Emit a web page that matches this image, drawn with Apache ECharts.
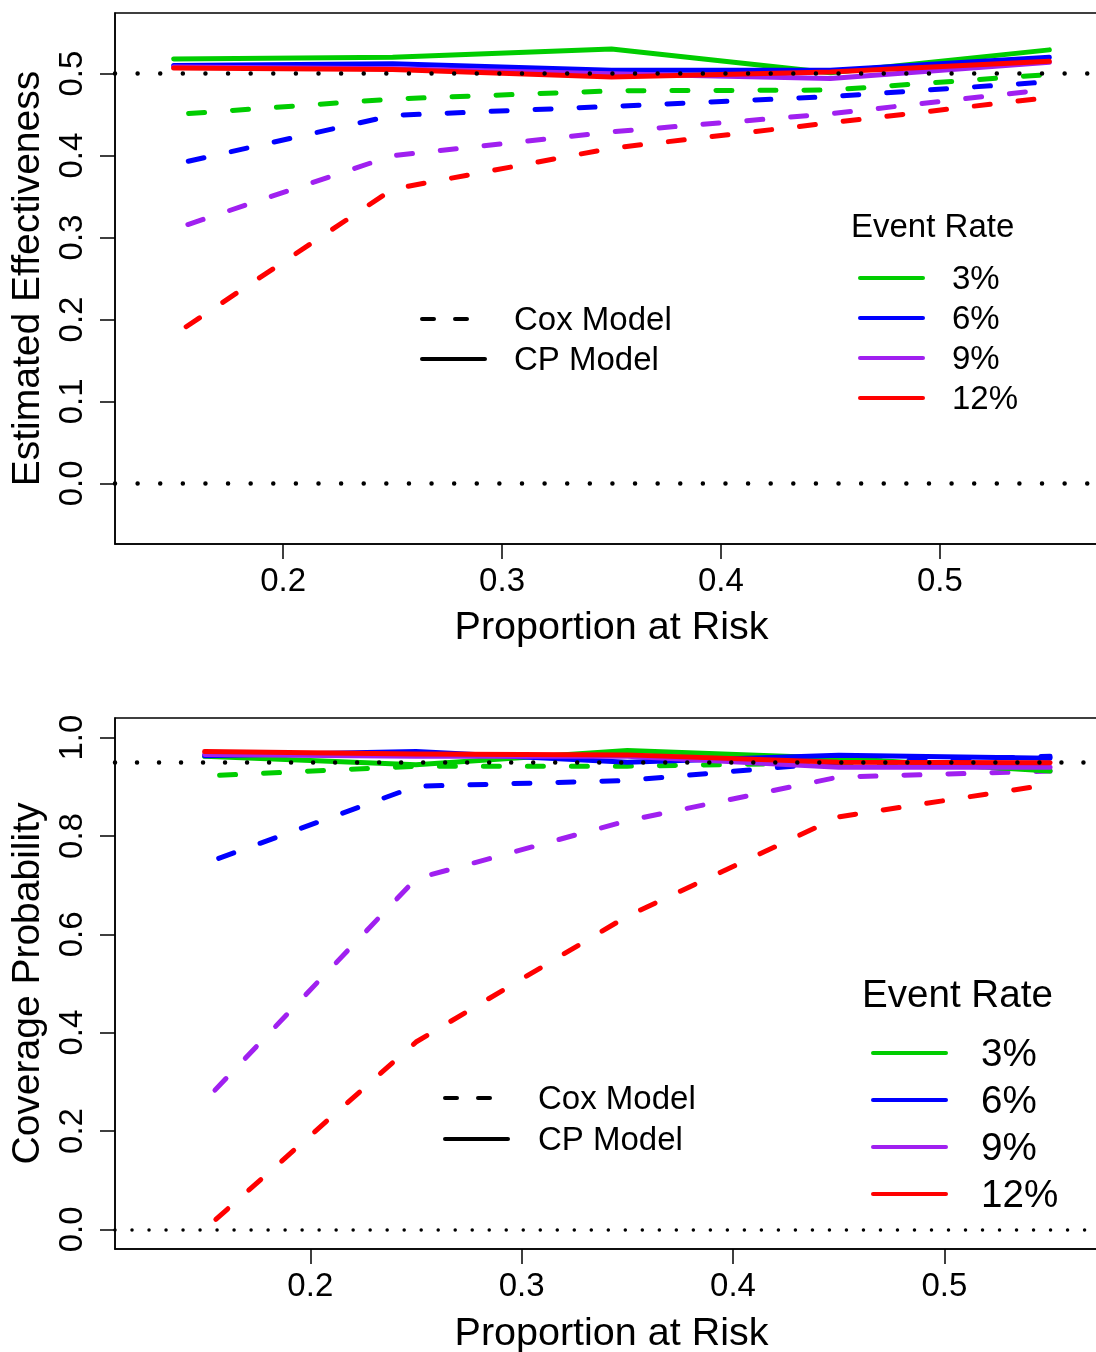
<!DOCTYPE html>
<html>
<head>
<meta charset="utf-8">
<title>Estimated Effectiveness and Coverage Probability</title>
<script src="https://cdn.jsdelivr.net/npm/echarts@6/dist/echarts.min.js"></script>
<style>
  html, body { margin: 0; padding: 0; background: #fff; }
  #chart { width: 1096px; height: 1352px; }
</style>
</head>
<body>
<div id="chart"></div>
<script>
// Proportion at risk (x positions shared by every curve)
const propAtRisk = [0.15, 0.25, 0.35, 0.45, 0.55];

// Event rates and their colours
const eventRates = ['3%', '6%', '9%', '12%'];
const rateColors = ['#00CD00', '#0000FF', '#A020F0', '#FF0000'];

// Estimated effectiveness: Cox model
const coxEff3  = [0.450, 0.469, 0.479, 0.480, 0.499];
const coxEff6  = [0.389, 0.449, 0.460, 0.472, 0.490];
const coxEff9  = [0.310, 0.400, 0.429, 0.451, 0.481];
const coxEff12 = [0.181, 0.359, 0.409, 0.440, 0.471];
// Estimated effectiveness: CP model
const cpEff3  = [0.518, 0.520, 0.530, 0.501, 0.529];
const cpEff6  = [0.510, 0.512, 0.504, 0.504, 0.520];
const cpEff9  = [0.508, 0.506, 0.500, 0.494, 0.514];
const cpEff12 = [0.507, 0.505, 0.496, 0.502, 0.515];

// Coverage probability: Cox model
const coxCov3  = [0.922, 0.942, 0.942, 0.949, 0.937];
const coxCov6  = [0.744, 0.901, 0.913, 0.950, 0.962];
const coxCov9  = [0.261, 0.713, 0.831, 0.920, 0.932];
const coxCov12 = [0.000, 0.381, 0.637, 0.839, 0.905];
// Coverage probability: CP model
const cpCov3  = [0.962, 0.945, 0.974, 0.958, 0.932];
const cpCov6  = [0.963, 0.972, 0.950, 0.964, 0.958];
const cpCov9  = [0.966, 0.962, 0.962, 0.940, 0.940];
const cpCov12 = [0.972, 0.967, 0.965, 0.950, 0.949];

// Tick values
const xTicks = [0.2, 0.3, 0.4, 0.5];
const effTicks = [0.0, 0.1, 0.2, 0.3, 0.4, 0.5];
const covTicks = [0.0, 0.2, 0.4, 0.6, 0.8, 1.0];

// Reference levels
const effRefs = [0.5, 0.0];
const covRefs = [0.95, 0.0];

const FONT = '"Liberation Sans", Arial, Helvetica, sans-serif';

function pairs(ys) {
  return propAtRisk.map((x, i) => [x, ys[i]]);
}

function curve(gridIdx, ys, color, dashed) {
  return {
    type: 'line',
    xAxisIndex: gridIdx,
    yAxisIndex: gridIdx,
    data: pairs(ys),
    symbol: 'none',
    silent: true,
    lineStyle: dashed
      ? { color: color, width: 5, type: [16, 28], dashOffset: 29, cap: 'round', join: 'round' }
      : { color: color, width: 5, type: 'solid', cap: 'round', join: 'round' }
  };
}

function refLines(gridIdx, specs) {
  return {
    type: 'line',
    xAxisIndex: gridIdx,
    yAxisIndex: gridIdx,
    data: [],
    silent: true,
    markLine: {
      silent: true,
      symbol: 'none',
      animation: false,
      label: { show: false },
      emphasis: { disabled: true },
      data: specs.map(s => ({
        yAxis: s.y,
        lineStyle: { color: '#000', type: [0.01, s.gap], width: s.w, cap: 'round', opacity: 1 }
      }))
    }
  };
}

function xAxisFor(gridIdx, min, max, gap) {
  return {
    type: 'value',
    gridIndex: gridIdx,
    min: min,
    max: max,
    name: 'Proportion at Risk',
    nameLocation: 'middle',
    nameGap: gap,
    nameTextStyle: { fontFamily: FONT, fontSize: 39.5, color: '#000' },
    axisLine: { show: true, onZero: false, lineStyle: { color: '#000', width: 1.5 } },
    axisTick: { show: true, length: 15, inside: false, customValues: xTicks, lineStyle: { color: '#000', width: 1.5 } },
    axisLabel: { show: true, margin: 21, customValues: xTicks, fontFamily: FONT, fontSize: 33, color: '#000',
                 formatter: v => v.toFixed(1) },
    splitLine: { show: false }
  };
}

function yAxisFor(gridIdx, min, max, ticks, title) {
  return {
    type: 'value',
    gridIndex: gridIdx,
    min: min,
    max: max,
    name: title,
    nameLocation: 'middle',
    nameRotate: 90,
    nameGap: 63,
    nameTextStyle: { fontFamily: FONT, fontSize: 39, color: '#000' },
    axisLine: { show: true, onZero: false, lineStyle: { color: '#000', width: 1.5 } },
    axisTick: { show: true, length: 15, inside: false, customValues: ticks, lineStyle: { color: '#000', width: 1.5 } },
    axisLabel: { show: true, rotate: 90, margin: 26, customValues: ticks, fontFamily: FONT, fontSize: 33, color: '#000',
                 formatter: v => v.toFixed(1) },
    splitLine: { show: false }
  };
}

// Legend drawn as graphic elements: one box for the model type, one for the event rate
function modelLegend(x, y1, y2, textX, size) {
  return [
    { type: 'line', shape: { x1: x, y1: y1, x2: x + 63, y2: y1 },
      style: { stroke: '#000', lineWidth: 4, lineDash: [12, 21], lineCap: 'round' } },
    { type: 'line', shape: { x1: x, y1: y2, x2: x + 63, y2: y2 },
      style: { stroke: '#000', lineWidth: 4, lineCap: 'round' } },
    { type: 'text', x: textX, y: y1 + 2, style: { text: 'Cox Model', fontFamily: FONT, fontSize: size, fill: '#000', verticalAlign: 'middle' } },
    { type: 'text', x: textX, y: y2 + 2, style: { text: 'CP Model', fontFamily: FONT, fontSize: size, fill: '#000', verticalAlign: 'middle' } }
  ];
}

function rateLegend(titleX, titleY, lineX, lineLen, textX, rows, size) {
  const els = [
    { type: 'text', x: titleX, y: titleY + 2, style: { text: 'Event Rate', fontFamily: FONT, fontSize: size, fill: '#000', verticalAlign: 'middle' } }
  ];
  eventRates.forEach((label, i) => {
    els.push({ type: 'line', shape: { x1: lineX, y1: rows[i], x2: lineX + lineLen, y2: rows[i] },
               style: { stroke: rateColors[i], lineWidth: 4, lineCap: 'round' } });
    els.push({ type: 'text', x: textX, y: rows[i] + 2,
               style: { text: label, fontFamily: FONT, fontSize: size, fill: '#000', verticalAlign: 'middle' } });
  });
  return els;
}

const effCox = [coxEff3, coxEff6, coxEff9, coxEff12];
const effCp = [cpEff3, cpEff6, cpEff9, cpEff12];
const covCox = [coxCov3, coxCov6, coxCov9, coxCov12];
const covCp = [cpCov3, cpCov6, cpCov9, cpCov12];

const series = [];
series.push(refLines(0, [{ y: effRefs[0], gap: 22.6, w: 4.5 }, { y: effRefs[1], gap: 22.6, w: 4.5 }]));
effCox.forEach((ys, i) => series.push(curve(0, ys, rateColors[i], true)));
effCp.forEach((ys, i) => series.push(curve(0, ys, rateColors[i], false)));
series.push(refLines(1, [{ y: covRefs[0], gap: 22, w: 4.5 }, { y: covRefs[1], gap: 17, w: 3.5 }]));
covCox.forEach((ys, i) => series.push(curve(1, ys, rateColors[i], true)));
covCp.forEach((ys, i) => series.push(curve(1, ys, rateColors[i], false)));

const chart = echarts.init(document.getElementById('chart'), null, { renderer: 'canvas' });
chart.setOption({
  animation: false,
  backgroundColor: '#fff',
  textStyle: { fontFamily: FONT },
  grid: [
    { left: 115, top: 13, width: 993, height: 531, outerBoundsMode: 'none', containLabel: false,
      show: true, borderColor: '#000', borderWidth: 1.5, backgroundColor: 'transparent' },
    { left: 115, top: 718, width: 993, height: 531, outerBoundsMode: 'none', containLabel: false,
      show: true, borderColor: '#000', borderWidth: 1.5, backgroundColor: 'transparent' }
  ],
  xAxis: [
    xAxisFor(0, 0.1232, 0.5768, 64),
    xAxisFor(1, 0.1076, 0.5774, 65)
  ],
  yAxis: [
    yAxisFor(0, -0.074, 0.574, effTicks, 'Estimated Effectiveness'),
    yAxisFor(1, -0.04, 1.04, covTicks, 'Coverage Probability')
  ],
  series: series,
  graphic: [].concat(
    modelLegend(422, 319, 359, 514, 33),
    rateLegend(851, 226, 860, 63, 952, [278, 318, 358, 398], 33),
    modelLegend(445, 1098, 1139, 538, 33),
    rateLegend(862, 994, 873, 73, 981, [1053, 1100, 1147, 1194], 38.6)
  )
});
</script>
</body>
</html>
